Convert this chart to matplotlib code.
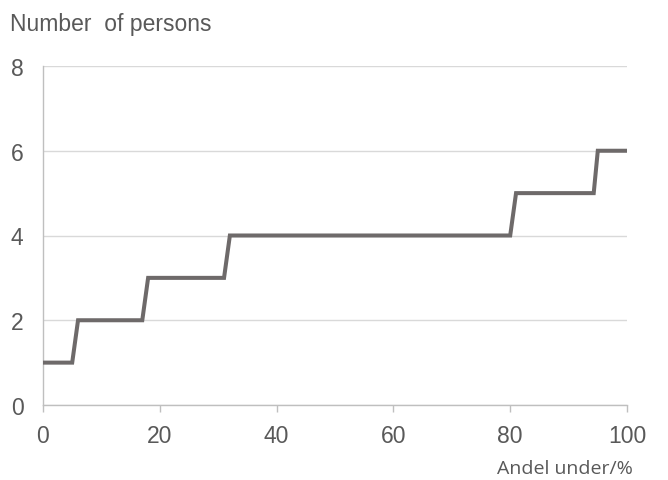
import matplotlib
matplotlib.use("Agg")
import matplotlib.pyplot as plt

# Data: share (%) vs number of persons (steps drawn with slight slant as in reference)
share = [0, 5, 6, 17, 18, 31, 32, 80, 81, 94.3, 95, 100]
persons = [1, 1, 2, 2, 3, 3, 4, 4, 5, 5, 6, 6]
x_ticks = [0, 20, 40, 60, 80, 100]
y_ticks = [0, 2, 4, 6, 8]

plt.rcParams['font.family'] = ['Liberation Sans', 'DejaVu Sans']

fig = plt.figure(figsize=(6.68, 4.81), dpi=100)
ax = fig.add_axes([43/668, 1-406/481, (627-43)/668, (406-67)/481])

ax.plot(share, persons, color='#6e6a6a', linewidth=2.9, solid_joinstyle='miter', solid_capstyle='butt', zorder=3)

ax.set_xlim(0, 100)
ax.set_ylim(0, 8)
ax.set_xticks(x_ticks)
ax.set_yticks(y_ticks)

ax.grid(axis='y', color='#d9d9d9', linewidth=1.0)
ax.set_axisbelow(True)

for s in ['top', 'right']:
    ax.spines[s].set_visible(False)
ax.spines['left'].set_color('#bfbfbf')
ax.spines['bottom'].set_color('#bfbfbf')
ax.spines['left'].set_linewidth(1.0)
ax.spines['bottom'].set_linewidth(1.0)

ax.tick_params(axis='x', direction='out', length=5, width=1, color='#bfbfbf',
               labelsize=16.5, labelcolor='#595959', pad=9)
ax.tick_params(axis='y', length=0, labelsize=16.5, labelcolor='#595959', pad=14)

fig.text(10/668, 1-25/481, 'Number  of persons', fontsize=16.5, color='#595959', va='center', ha='left')
fig.text(633/668, 1-469/481, 'Andel under/%', fontsize=14, color='#595959', va='center', ha='right',
         family=['Open Sans', 'DejaVu Sans'])

fig.savefig('out.png', dpi=100)
